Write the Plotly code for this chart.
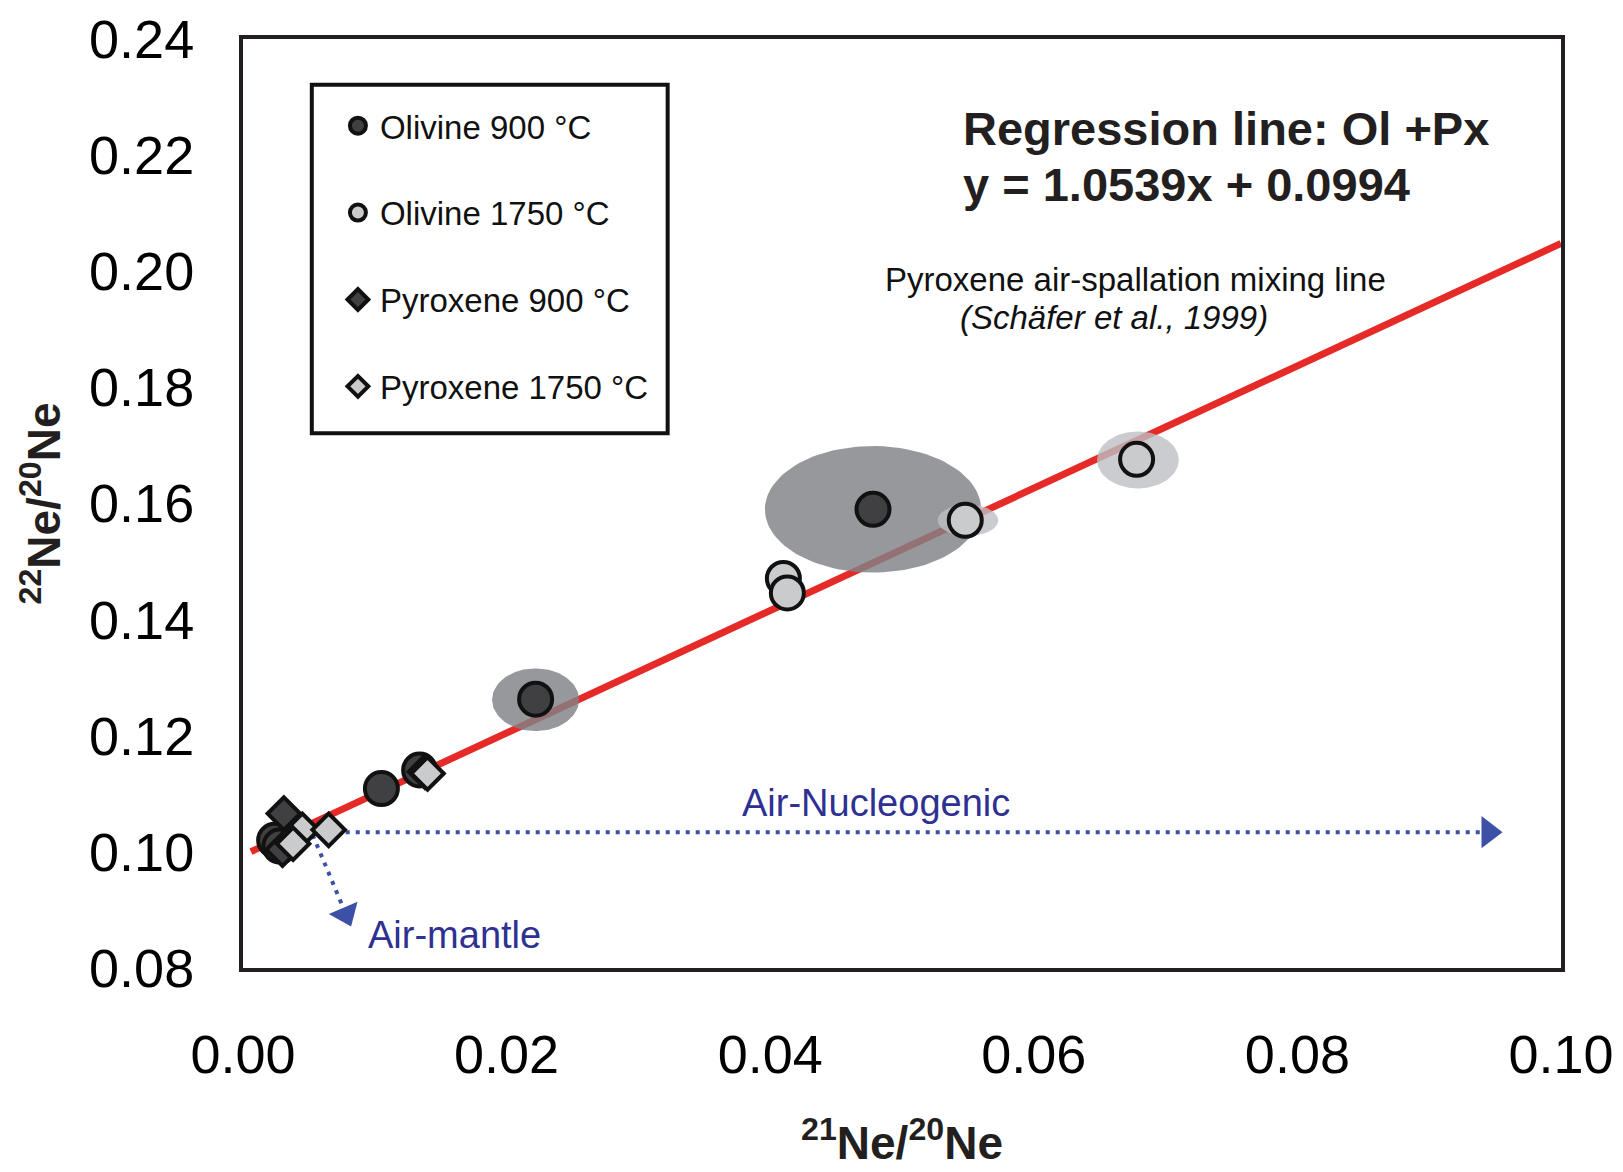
import numpy as np
import plotly.graph_objects as go

FONT = "Liberation Sans, Arial, sans-serif"

# ---- data ----
ol900_x = [0.0478, 0.0222, 0.0105, 0.0134, 0.0024, 0.0028]
ol900_y = [0.1590, 0.1263, 0.1109, 0.1141, 0.1020, 0.1010]

ol1750_x = [0.0678, 0.0548, 0.0410, 0.0413]
ol1750_y = [0.1676, 0.1571, 0.1471, 0.1446]

px900_x = [0.0031, 0.0030, 0.0138]
px900_y = [0.1066, 0.1004, 0.1138]

px1750_x = [0.0045, 0.0065, 0.0038, 0.0140]
px1750_y = [0.1038, 0.1038, 0.1014, 0.1135]

# error ellipses (center, semi-axes)
ell_x = [0.0478, 0.0222, 0.0679, 0.0550]
ell_y = [0.1590, 0.1262, 0.1675, 0.1571]
ell_rx = [0.0082, 0.0033, 0.0031, 0.0023]
ell_ry = [0.0109, 0.0054, 0.0049, 0.0027]
ell_kind = ["dark", "dark", "light", "light"]

# regression line y = a x + b
reg_slope = 1.0539
reg_intercept = 0.0994
reg_x = [0.0006, 0.1]

# mixing arrows
nuc_x = [0.0040, 0.0945]
nuc_y = [0.1034, 0.1034]
mantle_x = [0.0050, 0.0078]
mantle_y = [0.1045, 0.0893]

x_ticks = [0.00, 0.02, 0.04, 0.06, 0.08, 0.10]
y_ticks = [0.08, 0.10, 0.12, 0.14, 0.16, 0.18, 0.20, 0.22, 0.24]

BLUE = "#3c50a5"
NAVY = "#2e3192"
DARK = "#404042"
LIGHT = "#cacbcd"
EDGE = "#111111"

fig = go.Figure()

# regression line
reg_y = [reg_slope * v + reg_intercept for v in reg_x]
fig.add_trace(go.Scatter(x=reg_x, y=reg_y, mode="lines",
                         line=dict(color="#e52a27", width=7),
                         showlegend=False, hoverinfo="skip"))

# error ellipses
t = np.linspace(0, 2 * np.pi, 120)
for cx, cy, rx, ry, k in zip(ell_x, ell_y, ell_rx, ell_ry, ell_kind):
    col = "rgba(128,129,133,0.82)" if k == "dark" else "rgba(190,191,195,0.8)"
    fig.add_trace(go.Scatter(x=cx + rx * np.cos(t), y=cy + ry * np.sin(t),
                             mode="lines", fill="toself", fillcolor=col,
                             line=dict(color="rgba(0,0,0,0)", width=0),
                             showlegend=False, hoverinfo="skip"))

# arrows (dotted)
fig.add_trace(go.Scatter(x=nuc_x, y=nuc_y, mode="lines",
                         line=dict(color=BLUE, width=4, dash="4px,6px"),
                         showlegend=False, hoverinfo="skip"))
fig.add_trace(go.Scatter(x=[nuc_x[-1]], y=[nuc_y[-1]], mode="markers",
                         marker=dict(symbol="triangle-right", size=28, color=BLUE),
                         showlegend=False, hoverinfo="skip"))
fig.add_trace(go.Scatter(x=mantle_x, y=mantle_y, mode="lines",
                         line=dict(color=BLUE, width=4, dash="4px,6px"),
                         showlegend=False, hoverinfo="skip"))
fig.add_trace(go.Scatter(x=[mantle_x[-1]], y=[mantle_y[-1]], mode="markers",
                         marker=dict(symbol="triangle-down", size=27, color=BLUE, angle=-23),
                         showlegend=False, hoverinfo="skip"))

# data series
series = [
    ("Olivine 900 °C", ol900_x, ol900_y, "circle", DARK, 33),
    ("Olivine 1750 °C", ol1750_x, ol1750_y, "circle", LIGHT, 33),
    ("Pyroxene 900 °C", px900_x, px900_y, "diamond", DARK, 25),
    ("Pyroxene 1750 °C", px1750_x, px1750_y, "diamond", LIGHT, 25),
]
for i, (name, xs, ys, sym, col, sz) in enumerate(series):
    fig.add_trace(go.Scatter(x=xs, y=ys, mode="markers", name=name,
                             legendgroup=f"g{i}",
                             marker=dict(symbol=sym, size=sz, color=col,
                                         line=dict(color=EDGE, width=4))))

# legend frame
fig.add_shape(type="rect", xref="paper", yref="paper",
              x0=0.0522, x1=0.3222, y0=0.5756, y1=0.9507,
              line=dict(color="#111111", width=4), fillcolor="white",
              layer="below")

# annotations
fig.add_annotation(x=0.0545, y=0.2246, xref="x", yref="y", xanchor="left",
                   text="<b>Regression line: Ol +Px</b>", showarrow=False,
                   font=dict(family=FONT, size=47, color="#231f20"))
fig.add_annotation(x=0.0545, y=0.2150, xref="x", yref="y", xanchor="left",
                   text="<b>y = 1.0539x + 0.0994</b>", showarrow=False,
                   font=dict(family=FONT, size=47, color="#231f20"))
fig.add_annotation(x=0.0677, y=0.1986, xref="x", yref="y",
                   text="Pyroxene air-spallation mixing line", showarrow=False,
                   font=dict(family=FONT, size=33, color="#111111"))
fig.add_annotation(x=0.0661, y=0.1920, xref="x", yref="y",
                   text="<i>(Schäfer et al., 1999)</i>", showarrow=False,
                   font=dict(family=FONT, size=33, color="#111111"))
fig.add_annotation(x=0.0480, y=0.1084, xref="x", yref="y",
                   text="Air-Nucleogenic", showarrow=False,
                   font=dict(family=FONT, size=38, color=NAVY))
fig.add_annotation(x=0.0093, y=0.0857, xref="x", yref="y", xanchor="left",
                   text="Air-mantle", showarrow=False,
                   font=dict(family=FONT, size=38, color=NAVY))

fig.update_xaxes(range=[0, 0.1], tickvals=x_ticks,
                 ticktext=[f"{v:.2f}" for v in x_ticks],
                 showgrid=False, zeroline=False, showline=True, mirror=True,
                 linecolor="#231f20", linewidth=4, ticks="",
                 automargin=False, ticklabelstandoff=36,
                 tickfont=dict(family=FONT, size=54, color="#000"),
                 title=dict(text="<b><sup>21</sup>Ne/<sup>20</sup>Ne</b>",
                            font=dict(family=FONT, size=46, color="#231f20"),
                            standoff=45))
fig.update_yaxes(range=[0.08, 0.24], tickvals=y_ticks,
                 ticktext=[f"{v:.2f}" for v in y_ticks],
                 showgrid=False, zeroline=False, showline=True, mirror=True,
                 linecolor="#231f20", linewidth=4, ticks="",
                 automargin=False, ticklabelstandoff=34,
                 tickfont=dict(family=FONT, size=54, color="#000"),
                 title=dict(text="<b><sup>22</sup>Ne/<sup>20</sup>Ne</b>",
                            font=dict(family=FONT, size=46, color="#231f20"),
                            standoff=15))

fig.update_layout(
    width=1615, height=1164,
    margin=dict(l=235, r=62, t=31, b=204, autoexpand=False),
    plot_bgcolor="white", paper_bgcolor="white",
    font=dict(family=FONT),
    legend=dict(x=0.0705, y=0.9368, xanchor="left", yanchor="top",
                borderwidth=0, bgcolor="rgba(0,0,0,0)",
                font=dict(family=FONT, size=33, color="#111"),
                tracegroupgap=41, itemsizing="trace", itemwidth=34),
)

fig.write_html("out.html")
